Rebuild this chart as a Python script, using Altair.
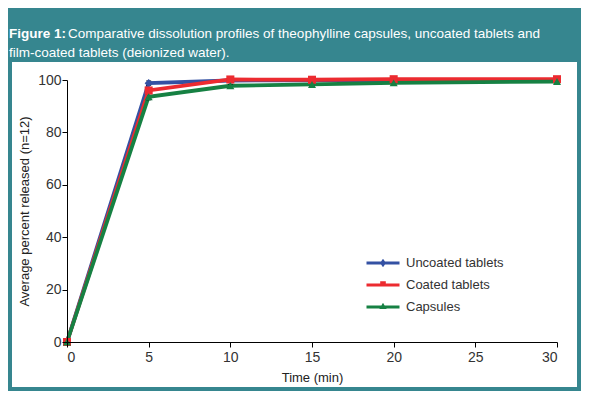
import altair as alt
import pandas as pd

# ---- data ----
time_min = [0, 5, 10, 15, 20, 30]
series_names = ["Uncoated tablets", "Coated tablets", "Capsules"]
uncoated = [0, 98.8, 99.8, 99.9, 100.0, 100.0]
coated = [0, 96.0, 100.2, 100.1, 100.3, 100.3]
capsules = [0, 93.6, 97.8, 98.3, 98.9, 99.4]
sd_uncoated = [0, 0.9, 0.4, 0.4, 0.4, 0.4]
sd_coated = [0, 1.1, 0.4, 0.4, 0.4, 0.4]
sd_capsules = [0, 1.2, 0.6, 0.6, 0.6, 0.6]

series_colors = ["#3451A3", "#EC2B30", "#168143"]
marker_shapes = ["diamond", "square", "triangle-up"]

title_bold = "Figure 1:"
title_line1 = "Comparative dissolution profiles of theophylline capsules, uncoated tablets and"
title_line2 = "film-coated tablets (deionized water)."
y_title = "Average percent released (n=12)"
x_title = "Time (min)"

TEAL = "#36868F"
FONT = "Liberation Sans"

rows = []
for name, vals, sds in zip(series_names, [uncoated, coated, capsules],
                           [sd_uncoated, sd_coated, sd_capsules]):
    for t, v, s in zip(time_min, vals, sds):
        rows.append({"series": name, "time": t, "value": v,
                     "lo": v - s, "hi": v + s})
df = pd.DataFrame(rows)

one = pd.DataFrame({"a": [0]})

x_enc = alt.X("time:Q", scale=alt.Scale(domain=[0, 30], nice=False),
              axis=alt.Axis(values=[0, 5, 10, 15, 20, 25, 30], title=x_title, zindex=1))
y_enc = alt.Y("value:Q", scale=alt.Scale(domain=[0, 100], nice=False),
              axis=alt.Axis(values=[0, 20, 40, 60, 80, 100], zindex=1, title=y_title))

color_scale = alt.Scale(domain=series_names, range=series_colors)

# legend symbol paths: a thick line with a marker in the middle
legend_paths = [
    "M-1.65,-0.15 L1.65,-0.15 L1.65,0.15 L-1.65,0.15 Z M0,-0.42 L0.3,0 L0,0.42 L-0.3,0 Z",
    "M-1.65,-0.15 L1.65,-0.15 L1.65,0.15 L-1.65,0.15 Z M-0.28,-0.38 L0.28,-0.38 L0.28,0.15 L-0.28,0.15 Z",
    "M-1.65,-0.15 L1.65,-0.15 L1.65,0.15 L-1.65,0.15 Z M0,-0.42 L0.36,0.2 L-0.36,0.2 Z",
]

leg = alt.Legend(
    title=None, orient="none", legendX=306, legendY=173, padding=0,
    symbolSize=400, symbolOpacity=1, symbolStrokeWidth=0, rowPadding=5,
    symbolType="square",
    labelFont=FONT, labelFontSize=13, labelColor="#333333", labelOffset=13)

# teal header band and teal frame (decoration)
header = alt.Chart(one).mark_rect(color=TEAL).encode(
    x=alt.value(-59), x2=alt.value(514), y=alt.value(-72), y2=alt.value(-18)
)
frame = alt.Chart(one).mark_rect(fillOpacity=0, stroke=TEAL, strokeWidth=4).encode(
    x=alt.value(-57), x2=alt.value(512), y=alt.value(-70), y2=alt.value(309)
)

t_bold = alt.Chart(one).mark_text(
    text=title_bold, font=FONT, fontSize=13.5, fontWeight="bold", color="white",
    align="left", baseline="middle"
).encode(x=alt.value(-58), y=alt.value(-46))
t_l1 = alt.Chart(one).mark_text(
    text=title_line1, font=FONT, fontSize=13.5, color="white",
    align="left", baseline="middle"
).encode(x=alt.value(1), y=alt.value(-46))
t_l2 = alt.Chart(one).mark_text(
    text=title_line2, font=FONT, fontSize=13.5, color="white",
    align="left", baseline="middle"
).encode(x=alt.value(-58), y=alt.value(-27))

lines = alt.Chart(df).mark_line(strokeWidth=3.8).encode(
    x=x_enc, y=y_enc,
    color=alt.Color("series:N", scale=color_scale, legend=leg),
    detail="series:N",
)

errs = alt.Chart(df).mark_errorbar(ticks=True, color="black", thickness=1).encode(
    x="time:Q", y=alt.Y("lo:Q", title=y_title), y2="hi:Q"
)

point_layers = []
for name, col, shp in zip(series_names, series_colors, marker_shapes):
    point_layers.append(
        alt.Chart(df).transform_filter(alt.datum.series == name).mark_point(
            shape=shp, filled=True, color=col, opacity=1, size=65
        ).encode(x="time:Q", y="value:Q")
    )

legend_layer = alt.Chart(df).mark_point(filled=True, opacity=0).encode(
    x="time:Q", y="value:Q",
    color=alt.Color("series:N", scale=color_scale, legend=leg),
    shape=alt.Shape("series:N", scale=alt.Scale(domain=series_names, range=legend_paths),
                    legend=leg),
)

chart = alt.layer(
    header, frame, t_bold, t_l1, t_l2, lines, errs, *point_layers, legend_layer
).properties(
    width=490, height=262,
    autosize=alt.AutoSizeParams(type="none"),
    padding={"left": 59, "top": 72, "right": 24, "bottom": 49},
    background="white",
).configure_view(
    stroke=None, clip=False
).configure_axis(
    grid=False, domainColor="black", tickColor="black", tickSize=5,
    labelFont=FONT, labelFontSize=14, labelColor="#333333",
    titleFont=FONT, titleFontSize=13, titleFontWeight="normal", titleColor="#222222",
).configure_axisX(
    labelPadding=3, titlePadding=7
).configure_axisY(
    labelPadding=1, titlePadding=6
)

chart.save("out.html", embed_options={"renderer": "svg", "actions": False})
